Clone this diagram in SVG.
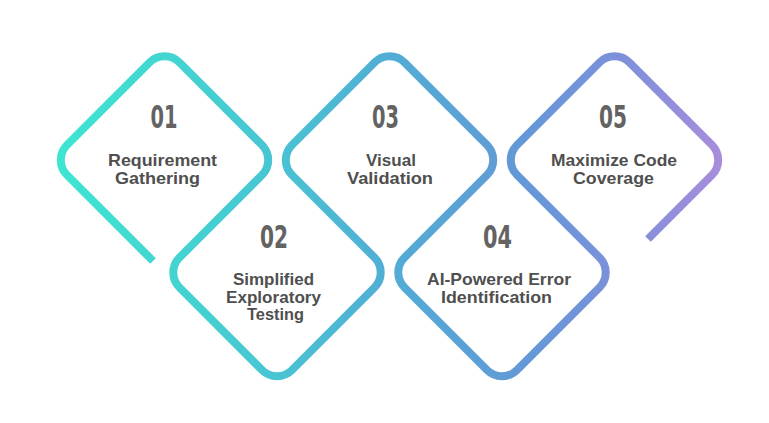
<svg xmlns="http://www.w3.org/2000/svg" width="769" height="423" viewBox="0 0 769 423">
  <defs>
    <linearGradient id="frameGrad" gradientUnits="userSpaceOnUse" x1="52" y1="0" x2="727" y2="0">
      <stop offset="0" stop-color="#3de6d1"/>
      <stop offset="0.3" stop-color="#47c8d2"/>
      <stop offset="0.5" stop-color="#51add5"/>
      <stop offset="0.7" stop-color="#6398d6"/>
      <stop offset="0.85" stop-color="#7f90da"/>
      <stop offset="1" stop-color="#aa8ddc"/>
    </linearGradient>
  </defs>
  <style>
    .frame { fill: none; stroke: url(#frameGrad); stroke-width: 8; stroke-linecap: butt; stroke-linejoin: round; }
    .num { font-family: "Liberation Sans Narrow", "DejaVu Sans Condensed", "Liberation Sans", sans-serif; font-size: 32px; font-weight: bold; fill: #636363; text-anchor: middle; }
    .lbl { font-family: "Liberation Sans", Arial, sans-serif; font-size: 16.5px; font-weight: bold; fill: #4f4f4f; text-anchor: middle; }
  </style>
  <rect width="769" height="423" fill="#ffffff"/>
  <g id="connectors">
    <path class="frame" d="M153,261 L67,175 A21.21,21.21 0 0 1 67,145 L149.5,62.5 A21.21,21.21 0 0 1 179.5,62.5 L262,145 A21.21,21.21 0 0 1 262,175 L179.5,257.5 A21.21,21.21 0 0 0 179.5,287.5 L262,370 A21.21,21.21 0 0 0 292,370 L374.5,287.5 A21.21,21.21 0 0 0 374.5,257.5 L292,175 A21.21,21.21 0 0 1 292,145 L374.5,62.5 A21.21,21.21 0 0 1 404.5,62.5 L487,145 A21.21,21.21 0 0 1 487,175 L404.5,257.5 A21.21,21.21 0 0 0 404.5,287.5 L487,370 A21.21,21.21 0 0 0 517,370 L599.5,287.5 A21.21,21.21 0 0 0 599.5,257.5 L517,175 A21.21,21.21 0 0 1 517,145 L599.5,62.5 A21.21,21.21 0 0 1 629.5,62.5 L712,145 A21.21,21.21 0 0 1 712,175 L648,239"/>
  </g>
  <g id="step-01">
    <text class="num" x="164" y="128" textLength="27" lengthAdjust="spacingAndGlyphs">01</text>
    <text class="lbl" x="162.5" y="166" textLength="109" lengthAdjust="spacingAndGlyphs">Requirement</text>
    <text class="lbl" x="157.5" y="184" textLength="85" lengthAdjust="spacingAndGlyphs">Gathering</text>
  </g>
  <g id="step-02">
    <text class="num" x="274" y="248" textLength="28" lengthAdjust="spacingAndGlyphs">02</text>
    <text class="lbl" x="273.5" y="285" textLength="81" lengthAdjust="spacingAndGlyphs">Simplified</text>
    <text class="lbl" x="273.5" y="302.5" textLength="95" lengthAdjust="spacingAndGlyphs">Exploratory</text>
    <text class="lbl" x="275.5" y="320" textLength="57" lengthAdjust="spacingAndGlyphs">Testing</text>
  </g>
  <g id="step-03">
    <text class="num" x="385.5" y="128" textLength="27" lengthAdjust="spacingAndGlyphs">03</text>
    <text class="lbl" x="391" y="166" textLength="50" lengthAdjust="spacingAndGlyphs">Visual</text>
    <text class="lbl" x="390" y="184" textLength="86" lengthAdjust="spacingAndGlyphs">Validation</text>
  </g>
  <g id="step-04">
    <text class="num" x="497.5" y="248" textLength="29" lengthAdjust="spacingAndGlyphs">04</text>
    <text class="lbl" x="499" y="285" textLength="144" lengthAdjust="spacingAndGlyphs">AI-Powered Error</text>
    <text class="lbl" x="496.5" y="303" textLength="111" lengthAdjust="spacingAndGlyphs">Identification</text>
  </g>
  <g id="step-05">
    <text class="num" x="613" y="128" textLength="28" lengthAdjust="spacingAndGlyphs">05</text>
    <text class="lbl" x="614" y="166" textLength="126" lengthAdjust="spacingAndGlyphs">Maximize Code</text>
    <text class="lbl" x="613.5" y="184" textLength="81" lengthAdjust="spacingAndGlyphs">Coverage</text>
  </g>
</svg>
